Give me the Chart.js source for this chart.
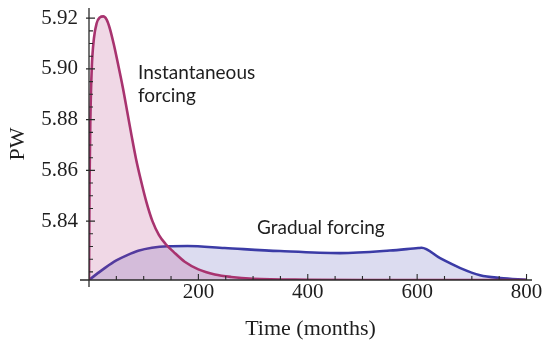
<!DOCTYPE html>
<html>
<head>
<meta charset="utf-8">
<script src="https://cdn.jsdelivr.net/npm/chart.js@4/dist/chart.umd.min.js"></script>
<style>
  html, body { margin: 0; padding: 0; background: #fff; }
  #wrap { width: 542px; height: 347px; }
</style>
</head>
<body>
<div id="wrap"><canvas id="pwChart" width="542" height="347"></canvas></div>
<script>
// values (months, PW)
const instMonths = [0, 1, 2.5, 5, 9, 14, 20, 26, 32, 38, 45, 53, 62, 70, 78, 86, 95, 105, 116, 128, 140, 155, 175, 200, 230, 260, 300, 400, 500, 650, 800];
const instPW = [5.8168, 5.855, 5.880, 5.900, 5.912, 5.918, 5.9203, 5.9207, 5.9195, 5.916, 5.910, 5.902, 5.8925, 5.883, 5.8735, 5.8645, 5.856, 5.8475, 5.8400, 5.8345, 5.8310, 5.8278, 5.8240, 5.8210, 5.8190, 5.8180, 5.8173, 5.8169, 5.8168, 5.8168, 5.8168];

const gradMonths = [0, 15, 30, 50, 70, 90, 115, 145, 180, 248, 349, 459, 550, 602, 608, 642, 679, 715, 752, 800];
const gradPW = [5.8168, 5.8193, 5.8217, 5.8245, 5.8266, 5.8283, 5.8295, 5.8301, 5.8302, 5.8294, 5.8282, 5.8274, 5.8284, 5.8294, 5.8295, 5.8254, 5.8215, 5.8187, 5.8176, 5.8169];

const yMajor = [5.84, 5.86, 5.88, 5.90, 5.92];
const xMajor = [200, 400, 600, 800];

const toPoints = (xs, ys) => xs.map((x, i) => ({ x: x, y: ys[i] }));
const isMajor = (v, list) => list.some(m => Math.abs(m - v) < 1e-6);

const serif = '"Liberation Serif", "DejaVu Serif", serif';

// axes drawn Mathematica style: ticks pointing into the plot
const axesPlugin = {
    id: 'axesPlugin',
    afterDatasetsDraw(chart) {
        const ctx = chart.ctx;
        const xs = chart.scales.x, ys = chart.scales.y;
        const left = xs.getPixelForValue(0);
        const bottom = ys.bottom;
        ctx.save();
        ctx.strokeStyle = '#2a2a2a';
        ctx.lineWidth = 1.3;
        ctx.beginPath();
        ctx.moveTo(left - 9, bottom);
        ctx.lineTo(chart.chartArea.right, bottom);
        ctx.moveTo(left, ys.top);
        ctx.lineTo(left, bottom + 7);
        ctx.stroke();
        ctx.lineWidth = 1.1;
        ctx.beginPath();
        ys.ticks.forEach(t => {
            const py = ys.getPixelForValue(t.value);
            const major = isMajor(t.value, yMajor);
            ctx.moveTo(major ? left - 3 : left, py);
            ctx.lineTo(left + (major ? 6 : 4), py);
        });
        xs.ticks.forEach(t => {
            if (t.value === 0) return;
            const px = xs.getPixelForValue(t.value);
            const major = isMajor(t.value, xMajor);
            ctx.moveTo(px, bottom);
            ctx.lineTo(px, bottom - (major ? 6 : 4));
        });
        ctx.stroke();

        // curve labels
        ctx.fillStyle = '#1e1e1e';
        ctx.font = '19px Lato';
        ctx.textBaseline = 'middle';
        ctx.textAlign = 'left';
        ctx.fillText('Instantaneous', 138, 73);
        ctx.fillText('forcing', 138, 96);
        ctx.fillText('Gradual forcing', 257, 228);
        ctx.restore();
    }
};

new Chart(document.getElementById('pwChart').getContext('2d'), {
    type: 'line',
    data: {
        datasets: [
            {
                label: 'Instantaneous forcing',
                data: toPoints(instMonths, instPW),
                borderColor: '#a8336f',
                backgroundColor: 'rgba(180, 60, 130, 0.2)',
                borderWidth: 2.6,
                pointRadius: 0,
                cubicInterpolationMode: 'monotone',
                fill: 'start'
            },
            {
                label: 'Gradual forcing',
                data: toPoints(gradMonths, gradPW),
                borderColor: '#3b3ba6',
                backgroundColor: 'rgba(80, 80, 180, 0.2)',
                borderWidth: 2.6,
                pointRadius: 0,
                cubicInterpolationMode: 'monotone',
                fill: 'start'
            }
        ]
    },
    options: {
        responsive: false,
        animation: false,
        layout: { padding: { top: 8, right: 10, left: 0, bottom: 0 } },
        plugins: {
            legend: { display: false },
            tooltip: { enabled: false }
        },
        scales: {
            x: {
                type: 'linear',
                min: 0,
                max: 810,
                afterFit: s => { s.height = 67; s.paddingLeft = 0; s.paddingRight = 0; },
                grid: { display: false, drawTicks: false },
                border: { display: false },
                ticks: {
                    stepSize: 50,
                    autoSkip: false,
                    includeBounds: false,
                    maxRotation: 0,
                    padding: 0,
                    color: '#1e1e1e',
                    font: { family: serif, size: 21 },
                    callback: v => (isMajor(v, xMajor) ? String(v) : '')
                },
                title: {
                    display: true,
                    text: 'Time (months)',
                    color: '#1e1e1e',
                    font: { family: serif, size: 22 },
                    padding: { top: 0, bottom: 5 }
                }
            },
            y: {
                min: 5.8168,
                max: 5.924,
                afterFit: s => { s.width = 89; s.paddingTop = 0; s.paddingBottom = 0; },
                grid: { display: false, drawTicks: false },
                border: { display: false },
                ticks: {
                    stepSize: 0.005,
                    autoSkip: false,
                    includeBounds: false,
                    padding: 11,
                    color: '#1e1e1e',
                    font: { family: serif, size: 21 },
                    callback: v => (isMajor(v, yMajor) ? v.toFixed(2) : '')
                },
                title: {
                    display: true,
                    text: 'PW',
                    color: '#1e1e1e',
                    font: { family: serif, size: 22 },
                    padding: { top: 5, bottom: 0 }
                }
            }
        }
    },
    plugins: [axesPlugin]
});
</script>
</body>
</html>
